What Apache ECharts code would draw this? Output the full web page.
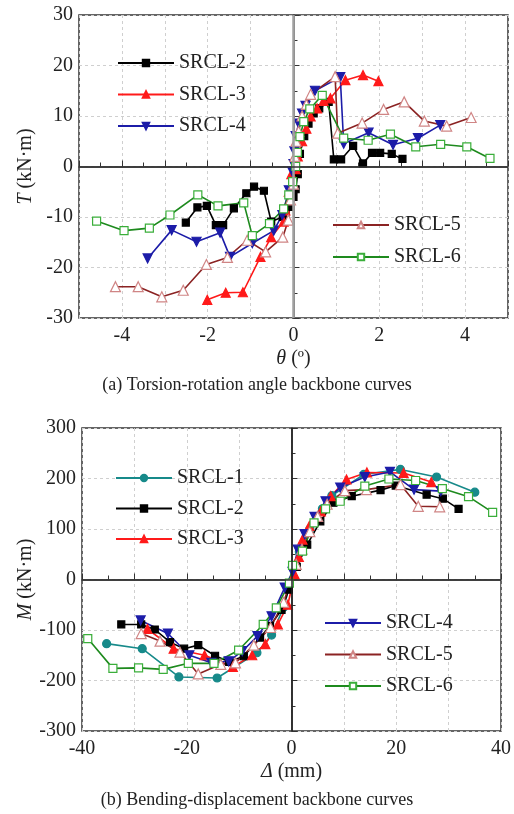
<!DOCTYPE html>
<html><head><meta charset="utf-8">
<script src="https://cdn.jsdelivr.net/npm/echarts@6/dist/echarts.min.js"></script>
<style>html,body{margin:0;padding:0;background:#fff}#c{width:514px;height:814px}</style>
</head><body><div id="c"></div>
<script>
// ---------- (a) Torsion – rotation angle ----------
const a2_theta = [-2.51,-2.24,-2.02,-1.81,-1.64,-1.39,-1.10,-0.92,-0.69,-0.52,-0.25,-0.10,0.00,0.05,0.10,0.15,0.25,0.35,0.47,0.60,0.82,0.94,1.11,1.39,1.62,1.83,2.02,2.29,2.54];
const a2_T     = [-11.1,-8.1,-7.8,-11.6,-11.6,-8.3,-5.3,-4.0,-4.8,-10.9,-10.0,-8.0,-6.0,-4.5,-1.5,2.5,6.0,8.5,10.5,11.5,12.8,1.4,1.4,4.1,0.6,2.7,2.7,2.5,1.5];
const a3_theta = [-2.01,-1.58,-1.18,-0.77,-0.52,-0.23,-0.19,-0.11,-0.05,0.05,0.10,0.20,0.30,0.40,0.55,0.70,0.86,1.21,1.62,1.98];
const a3_T     = [-26.4,-25.0,-24.9,-17.9,-14.0,-10.9,-8.7,-5.0,-1.5,-0.5,2.0,5.0,7.5,9.9,11.5,13.0,13.5,17.1,18.1,16.9];
const a4_theta = [-3.40,-2.84,-2.26,-1.71,-1.48,-0.96,-0.46,-0.26,-0.11,-0.03,0.00,0.02,0.05,0.12,0.20,0.28,0.50,1.09,1.17,1.75,2.32,2.90,3.42];
const a4_T     = [-18.2,-12.6,-14.9,-13.1,-17.9,-15.2,-12.7,-9.6,-4.7,-1.0,0.5,3.0,6.0,8.5,10.5,12.0,15.0,17.7,4.5,6.7,4.3,5.6,8.2];
const a5_theta = [-4.15,-3.62,-3.07,-2.57,-2.03,-1.54,-1.08,-0.65,-0.25,-0.12,-0.07,0.00,0.03,0.06,0.12,0.20,0.30,0.40,0.97,1.03,1.60,2.10,2.58,3.05,3.57,4.14];
const a5_T     = [-23.8,-23.8,-25.8,-24.5,-19.4,-18.0,-14.6,-16.9,-14.0,-10.6,-6.6,-3.5,2.0,5.0,7.0,10.0,12.3,14.3,17.8,6.6,8.6,11.3,12.8,9.0,8.0,9.7];
const a6_theta = [-4.59,-3.95,-3.36,-2.88,-2.23,-1.76,-1.16,-0.96,-0.56,-0.23,-0.11,-0.02,0.05,0.09,0.15,0.24,0.38,0.67,1.17,1.74,2.26,2.85,3.43,4.04,4.58];
const a6_T     = [-10.8,-12.7,-12.2,-9.6,-5.6,-7.8,-7.2,-13.7,-11.3,-8.4,-5.6,-3.0,0.0,2.8,5.9,8.9,11.4,14.1,5.6,5.2,6.4,3.9,4.4,3.9,1.6];

// ---------- (b) Bending – displacement ----------
const b1_d = [-35.3,-28.5,-21.5,-14.2,-6.6,-3.8,-1.5,1.5,3.5,5.9,7.7,13.8,20.8,27.7,35.0];
const b1_M = [-127,-137,-193,-195,-145,-110,-55,55,100,140,166,208,218,203,173];
const b2_d = [-32.5,-28.7,-26.1,-23.2,-20.5,-17.8,-14.6,-11.9,-9.1,-6.0,-4.1,-1.9,-0.5,1.0,3.0,5.5,8.0,11.5,17.0,19.9,25.8,28.9,31.9];
const b2_M = [-89,-89,-99,-124,-137,-130,-151,-163,-152,-115,-92,-60,-20,25,69,115,152,165,177,186,168,160,140];
const b3_d = [-27.5,-22.5,-16.6,-11.2,-7.5,-5.0,-2.6,-0.7,0.6,1.4,2.1,3.4,5.6,7.5,10.5,14.4,21.4,26.7];
const b3_M = [-98,-137,-150,-173,-150,-128,-89,-50,10,45,79,106,135,165,198,212,211,193];
const b4_d = [-28.8,-23.6,-19.5,-15.3,-12.0,-9.4,-6.5,-3.8,-1.3,0.2,1.2,2.5,4.4,6.5,9.3,14.0,18.8,23.4,28.5];
const b4_M = [-81,-107,-150,-165,-162,-142,-112,-73,-16,15,59,90,124,155,182,203,213,178,175];
const b5_d = [-28.7,-25.1,-21.3,-17.8,-13.5,-10.7,-7.2,-4.0,-1.5,0.9,2.0,3.5,5.0,6.8,10.2,14.3,20.8,24.2,28.3];
const b5_M = [-107,-122,-144,-187,-168,-165,-130,-95,-45,30,60,95,125,149,176,178,188,145,144];
const b6_d = [-38.9,-34.1,-29.2,-24.5,-19.7,-14.8,-10.1,-5.4,-2.9,-0.4,0.2,2.1,4.3,6.5,9.3,14.0,18.6,23.7,28.8,33.8,38.4];
const b6_M = [-117,-176,-175,-178,-166,-166,-140,-89,-56,-7,28,56,112,140,155,185,199,196,180,164,133];

const names = ['SRCL-1','SRCL-2','SRCL-3','SRCL-4','SRCL-5','SRCL-6'];
const aTicks = [-4,-2,0,2,4];
const bTicks = [-40,-20,0,20,40];

const zip = (x, y) => x.map((v, i) => [v, y[i]]);
const FONT = 'Liberation Serif';

const style = {
  'SRCL-1': {line:'#178a8a', sym:'circle', fill:'#178a8a', border:'#178a8a', size:8, rot:0},
  'SRCL-2': {line:'#000000', sym:'rect', fill:'#000000', border:'#000000', size:7, rot:0},
  'SRCL-3': {line:'#ff1a1a', sym:'triangle', fill:'#ff1a1a', border:'#ff1a1a', size:9, rot:0},
  'SRCL-4': {line:'#1c1ca8', sym:'triangle', fill:'#1c1ca8', border:'#1c1ca8', size:9, rot:180},
  'SRCL-5': {line:'#8b2323', sym:'triangle', fill:'#ffffff', border:'#d08585', size:10, rot:0},
  'SRCL-6': {line:'#1e8a1e', sym:'rect', fill:'#ffffff', border:'#3aae3a', size:8, rot:0}
};

function mk(name, data, gi, extra) {
  const s = style[name];
  return Object.assign({
    name, type:'line', xAxisIndex:gi, yAxisIndex:gi, data,
    symbol:s.sym, symbolSize:s.size, symbolRotate:s.rot, showAllSymbol:true,
    lineStyle:{color:s.line, width:1.6},
    itemStyle:{color:s.fill, borderColor:s.border, borderWidth:1.2},
    emphasis:{disabled:true}, animation:false, z:3
  }, extra || {});
}

const zeroA = {silent:true, symbol:'none', label:{show:false}, animation:false,
  data:[{xAxis:0, lineStyle:{color:'#a0a0a0', width:2.5, type:'solid'}},
        {yAxis:0, lineStyle:{color:'#333', width:1.5, type:'solid'}}]};
const zeroB = {silent:true, symbol:'none', label:{show:false}, animation:false,
  data:[{xAxis:0, lineStyle:{color:'#222', width:1.5, type:'solid'}},
        {yAxis:0, lineStyle:{color:'#333', width:1.5, type:'solid'}}]};

const series = [
  mk('SRCL-2', zip(a2_theta,a2_T), 0, {markLine:zeroA}),
  mk('SRCL-3', zip(a3_theta,a3_T), 0),
  mk('SRCL-4', zip(a4_theta,a4_T), 0),
  mk('SRCL-5', zip(a5_theta,a5_T), 0),
  mk('SRCL-6', zip(a6_theta,a6_T), 0),
  mk('SRCL-1', zip(b1_d,b1_M), 1, {markLine:zeroB}),
  mk('SRCL-2', zip(b2_d,b2_M), 1),
  mk('SRCL-3', zip(b3_d,b3_M), 1),
  mk('SRCL-4', zip(b4_d,b4_M), 1),
  mk('SRCL-5', zip(b5_d,b5_M), 1),
  mk('SRCL-6', zip(b6_d,b6_M), 1)
];

const axisText = {color:'#222', fontFamily:FONT, fontSize:20};
const splitDash = {show:true, lineStyle:{color:'#cfcfcf', type:[3,3], width:1}};
const frame = {show:true, lineStyle:{color:'#333', width:1.5}};

function xAx(gi, min, max, interval, labels) {
  return {type:'value', gridIndex:gi, min, max, interval,
    axisLine:frame, axisTick:{show:true, inside:true, length:6, lineStyle:{color:'#333'}},
    minorTick:{show:true, splitNumber:2, length:4, lineStyle:{color:'#333'}},
    splitLine:splitDash,
    axisLabel:Object.assign({}, axisText, {margin:8, showMinLabel:true, showMaxLabel:true,
      formatter:v => labels.indexOf(Math.round(v*1000)/1000) >= 0 ? String(v) : ''})};
}
function yAx(gi, min, max, interval) {
  return {type:'value', gridIndex:gi, min, max, interval,
    axisLine:frame, axisTick:{show:true, inside:true, length:6, lineStyle:{color:'#333'}},
    minorTick:{show:true, splitNumber:2, length:4, lineStyle:{color:'#333'}},
    splitLine:splitDash,
    axisLabel:Object.assign({}, axisText, {margin:6})};
}

const legendBase = {orient:'vertical', itemWidth:56, itemHeight:8, selectedMode:false,
  textStyle:{fontFamily:FONT, fontSize:20, color:'#222', lineHeight:20}, padding:0};

const nameStyle = {fontFamily:FONT, fontSize:20, color:'#222', rich:{i:{fontFamily:FONT, fontSize:20, fontStyle:'italic', color:'#222'}}};

const option = {
  backgroundColor:'#fff',
  animation:false,
  grid:[
    {left:79, top:15, width:429, height:303, show:true, borderColor:'#333', borderWidth:1.5, backgroundColor:'transparent'},
    {left:82, top:428, width:428, height:303, show:true, borderColor:'#333', borderWidth:1.5, backgroundColor:'transparent'}
  ],
  xAxis:[
    Object.assign(xAx(0,-5,5,1,aTicks), {name:'{i|θ} (º)', nameLocation:'middle', nameGap:31, nameMoveOverlap:false, nameTextStyle:nameStyle}),
    Object.assign(xAx(1,-40,40,10,bTicks), {name:'{i|Δ} (mm)', nameLocation:'middle', nameGap:31, nameMoveOverlap:false, nameTextStyle:nameStyle})
  ],
  yAxis:[
    Object.assign(yAx(0,-30,30,10), {name:'{i|T} (kN·m)', nameLocation:'middle', nameGap:43, nameMoveOverlap:false, nameTextStyle:nameStyle}),
    Object.assign(yAx(1,-300,300,100), {name:'{i|M} (kN·m)', nameLocation:'middle', nameGap:46, nameMoveOverlap:false, nameTextStyle:nameStyle})
  ],
  legend:[
    Object.assign({}, legendBase, {left:117, top:53, itemGap:11.5, data:['SRCL-2','SRCL-3','SRCL-4']}),
    Object.assign({}, legendBase, {left:332, top:215, itemGap:12, data:['SRCL-5','SRCL-6']}),
    Object.assign({}, legendBase, {left:115, top:468, itemGap:10.5, data:['SRCL-1','SRCL-2','SRCL-3']}),
    Object.assign({}, legendBase, {left:324, top:613, itemGap:11.5, data:['SRCL-4','SRCL-5','SRCL-6']})
  ],
  title:[
    {text:'(a) Torsion-rotation angle backbone curves', left:'center', top:376,
      textStyle:{fontFamily:FONT, fontSize:18, fontWeight:'normal', color:'#222'}, padding:0},
    {text:'(b) Bending-displacement backbone curves', left:'center', top:791,
      textStyle:{fontFamily:FONT, fontSize:18, fontWeight:'normal', color:'#222'}, padding:0}
  ],
  series
};

const chart = echarts.init(document.getElementById('c'), null, {renderer:'canvas'});
chart.setOption(option);
</script>
</body></html>
